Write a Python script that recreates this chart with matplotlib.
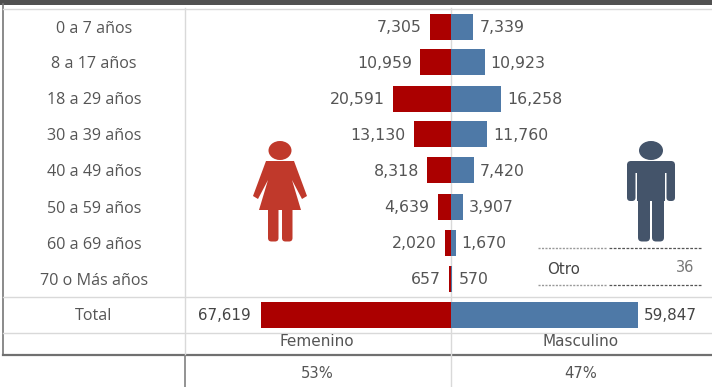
#!/usr/bin/env python3
# -*- coding: utf-8 -*-

import matplotlib
matplotlib.use('Agg')
import matplotlib.pyplot as plt
from matplotlib.patches import Ellipse, FancyBboxPatch, Polygon, Rectangle

plt.rcParams['font.family'] = ['DejaVu Sans']

age_groups = ['0 a 7 años', '8 a 17 años', '18 a 29 años', '30 a 39 años',
              '40 a 49 años', '50 a 59 años', '60 a 69 años', '70 o Más años']
femenino = [7305, 10959, 20591, 13130, 8318, 4639, 2020, 657]
masculino = [7339, 10923, 16258, 11760, 7420, 3907, 1670, 570]
total_label = 'Total'
total_femenino = 67619
total_masculino = 59847
otro_label = 'Otro'
otro_value = 36
genders = ['Femenino', 'Masculino']
shares = ['53%', '47%']

W, H = 712, 387
TEXT = '#555555'
GRID = '#d9d9d9'
RED = '#ab0000'
BLUE = '#4e79a7'
LABEL_FONT = ['Open Sans', 'DejaVu Sans']

row_centers = [27, 62, 98.5, 134, 170, 207, 243, 279]
total_center = 315
cx = 450.5

fig = plt.figure(figsize=(W / 100, H / 100), dpi=100)


def pixel_axes(x0, x1, y0, y1):
    # y0 / y1 measured from the top of the image
    return fig.add_axes([x0 / W, 1 - y1 / H, (x1 - x0) / W, (y1 - y0) / H])


def rounded(ax, x, y, w, h, r, color):
    ax.add_patch(FancyBboxPatch((x, y), w, h, boxstyle=f'round,pad=0,rounding_size={r}', color=color, lw=0))


# Background layer in image pixels
bg = pixel_axes(0, W, 0, H)
bg.set_xlim(0, W)
bg.set_ylim(H, 0)
bg.axis('off')

bg.add_patch(Rectangle((0, 0), W, 4.5, color='#505050', lw=0))
bg.plot([3, 3], [4, 354], color='#777777', lw=1.2)
bg.plot([3, W], [354.5, 354.5], color='#707070', lw=1.6)
bg.plot([185, 185], [356, H], color='#808080', lw=1.2)
bg.plot([185, 185], [8, 354], color=GRID, lw=1)
bg.plot([cx, cx], [8, H], color=GRID, lw=1)
for y in [8.5, 296.5, 332.5]:
    bg.plot([3, W], [y, y], color=GRID, lw=1)

for name, y in zip(age_groups, row_centers):
    bg.text(94, y + 2, name, ha='center', va='center', color=TEXT, fontsize=11.6, family=LABEL_FONT)
bg.text(94, total_center + 1.5, total_label, ha='center', va='center', color=TEXT, fontsize=11.6, family=LABEL_FONT)
bg.text(317, 342, genders[0], ha='center', va='center', color=TEXT, fontsize=11)
bg.text(581, 342, genders[1], ha='center', va='center', color=TEXT, fontsize=11)
bg.text(317, 374, shares[0], ha='center', va='center', color=TEXT, fontsize=10.6)
bg.text(581, 374, shares[1], ha='center', va='center', color=TEXT, fontsize=10.6)

# Female figure
ICON_F = '#c0392b'
bg.add_patch(Ellipse((280, 150.5), 23, 19, color=ICON_F, lw=0))
bg.add_patch(Polygon([(266, 161), (294, 161), (307, 196), (302, 199), (292, 180),
                      (301, 210), (259, 210), (268, 180), (258, 199), (253, 196)],
                     closed=True, color=ICON_F, lw=0))
rounded(bg, 268, 205, 10.5, 36.5, 3.5, ICON_F)
rounded(bg, 282, 205, 10.5, 36.5, 3.5, ICON_F)

# Male figure
ICON_M = '#44546a'
bg.add_patch(Ellipse((651, 150.5), 24, 19, color=ICON_M, lw=0))
rounded(bg, 627, 161, 48, 12, 4, ICON_M)
rounded(bg, 627, 163, 8.5, 38, 3.5, ICON_M)
rounded(bg, 666.5, 163, 8.5, 38, 3.5, ICON_M)
bg.add_patch(Rectangle((637, 163), 28, 38, color=ICON_M, lw=0))
rounded(bg, 638, 195, 12, 46.5, 4, ICON_M)
rounded(bg, 652, 195, 12, 46.5, 4, ICON_M)

# Otro box
for y in [248, 285]:
    bg.plot([538, 607], [y, y], color='#999999', lw=1, ls=(0, (1.5, 1)))
    bg.plot([609, 701], [y, y], color='#555555', lw=0.9, ls=(0, (2.2, 1.2)))
bg.text(547, 269, otro_label, ha='left', va='center', color='#444444', fontsize=10.8)
bg.text(694, 267, str(otro_value), ha='right', va='center', color='#777777', fontsize=10.5)

# Bars: each side has its own x scale
left = pixel_axes(185, cx, 0, H)
right = pixel_axes(cx, W, 0, H)
left.set_xlim(265.5 / 0.0028, 0)
right.set_xlim(0, 261.5 / 0.00313)
for ax in [left, right]:
    ax.set_ylim(H, 0)
    ax.axis('off')
    ax.patch.set_alpha(0)

left.barh(row_centers, femenino, height=26, color=RED, lw=0)
right.barh(row_centers, masculino, height=26, color=BLUE, lw=0)
left.barh([total_center], [total_femenino], height=26, color=RED, lw=0)
right.barh([total_center], [total_masculino], height=26, color=BLUE, lw=0)

for y, v in zip(row_centers, femenino):
    left.annotate(f'{v:,}', (v, y), xytext=(-8, -1), textcoords='offset pixels', ha='right',
                  va='center', color=TEXT, fontsize=11.3)
for y, v in zip(row_centers, masculino):
    right.annotate(f'{v:,}', (v, y), xytext=(6, -1), textcoords='offset pixels', ha='left',
                   va='center', color=TEXT, fontsize=11.3)
left.annotate(f'{total_femenino:,}', (total_femenino, total_center), xytext=(-10, 0), textcoords='offset pixels',
              ha='right', va='center', color='#444444', fontsize=10.9)
right.annotate(f'{total_masculino:,}', (total_masculino, total_center), xytext=(6, 0), textcoords='offset pixels',
               ha='left', va='center', color='#444444', fontsize=10.9)

fig.savefig('out.png', dpi=100)
